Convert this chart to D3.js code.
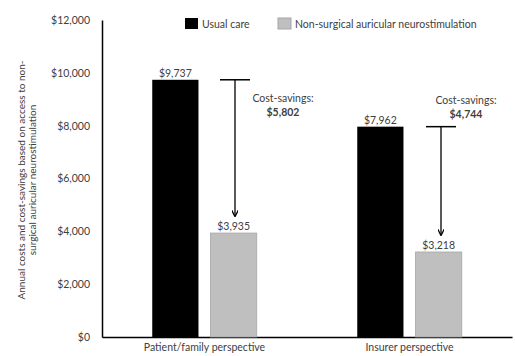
<!DOCTYPE html>
<html>
<head>
<meta charset="utf-8">
<script src="https://cdn.jsdelivr.net/npm/d3@7"></script>
<style>
  body { margin: 0; background: #fff; }
  text { font-family: Lato, "Open Sans", sans-serif; fill: #404040; }
</style>
</head>
<body>
<svg width="515" height="356"></svg>
<script>
const categories = ["Patient/family perspective", "Insurer perspective"];
const series = ["Usual care", "Non-surgical auricular neurostimulation"];
const usualCare = [9737, 7962];
const neurostim = [3935, 3218];
const savings = [5802, 4744];
const yTicks = [0, 2000, 4000, 6000, 8000, 10000, 12000];

const svg = d3.select("svg");
const colors = ["#000000", "#bfbfbf"];

const x = d3.scaleBand().domain(categories).range([102, 512]);
const xs = d3.scaleBand().domain(series).range([0, x.bandwidth()]).paddingInner(0.207).paddingOuter(0.862);
const y = d3.scaleLinear().domain([0, 12000]).range([337, 20]);

const fmt = d => "$" + d3.format(",")(d);

// y axis
const yAxis = svg.append("g")
  .attr("transform", "translate(102,0)")
  .call(d3.axisLeft(y).tickValues(yTicks).tickFormat(fmt).tickSize(0).tickPadding(12));
yAxis.select(".domain").attr("stroke", "#000").attr("stroke-width", 1.5);
yAxis.selectAll("text").style("font-size", "10.5px").attr("fill", "#404040");

// x axis
const xAxis = svg.append("g")
  .attr("transform", "translate(0,337)")
  .call(d3.axisBottom(x).tickSize(0).tickPadding(7));
xAxis.select(".domain").attr("stroke", "#000").attr("stroke-width", 1.5);
xAxis.selectAll("text").style("font-size", "10.5px").attr("fill", "#404040");

// bars
const rows = categories.map((c, i) => ({ cat: c, vals: [usualCare[i], neurostim[i]], save: savings[i] }));
const grp = svg.append("g").selectAll("g").data(rows).enter().append("g")
  .attr("transform", d => `translate(${x(d.cat)},0)`);

grp.selectAll("rect").data(d => d.vals.map((v, j) => ({ s: series[j], v, j })))
  .enter().append("rect")
  .attr("x", d => xs(d.s))
  .attr("y", d => y(d.v))
  .attr("width", xs.bandwidth())
  .attr("height", d => y(0) - y(d.v))
  .attr("fill", d => colors[d.j])
  .attr("stroke", d => d.j ? "#a6a6a6" : "none")
  .attr("stroke-width", 0.8);

grp.selectAll("text.val").data(d => d.vals.map((v, j) => ({ s: series[j], v })))
  .enter().append("text")
  .attr("x", d => xs(d.s) + xs.bandwidth() / 2)
  .attr("y", d => y(d.v) - 3)
  .attr("text-anchor", "middle")
  .style("font-size", "10.5px")
  .text(d => fmt(d.v));

// arrows
svg.append("defs").append("marker")
  .attr("id", "arrow").attr("viewBox", "0 0 10 10")
  .attr("refX", 9).attr("refY", 5)
  .attr("markerWidth", 5).attr("markerHeight", 5)
  .attr("orient", "auto")
  .append("path").attr("d", "M0,0L10,5L0,10").attr("fill", "none").attr("stroke", "#000").attr("stroke-width", 2);

const ax = [235 - 102, 441 - 307];
grp.each(function (d, i) {
  const g = d3.select(this);
  const top = y(d.vals[0]);
  const bot = y(d.vals[1]) - 17;
  g.append("line").attr("x1", ax[i] - 15).attr("x2", ax[i] + 15).attr("y1", top).attr("y2", top)
    .attr("stroke", "#000").attr("stroke-width", 1.5);
  g.append("line").attr("x1", ax[i]).attr("x2", ax[i]).attr("y1", top).attr("y2", bot)
    .attr("stroke", "#000").attr("stroke-width", 1.3).attr("marker-end", "url(#arrow)");
});

// cost-savings labels
const labelX = [283, 466];
const labelY = [102, 104];
rows.forEach((d, i) => {
  const t = svg.append("text").attr("text-anchor", "middle").style("font-size", "10.5px");
  t.append("tspan").attr("x", labelX[i]).attr("y", labelY[i]).text("Cost-savings:");
  t.append("tspan").attr("x", labelX[i]).attr("y", labelY[i] + 14).style("font-weight", "bold").text(fmt(d.save));
});

// legend
const leg = svg.append("g");
const legX = [185, 278];
series.forEach((s, j) => {
  leg.append("rect").attr("x", legX[j]).attr("y", 18).attr("width", 13).attr("height", 11)
    .attr("fill", colors[j]).attr("stroke", j ? "#a6a6a6" : "none");
  leg.append("text").attr("x", legX[j] + 17).attr("y", 27.5).style("font-size", "10.5px").text(s);
});

// y title
const yt = svg.append("text").attr("transform", "translate(25,180) rotate(-90)")
  .attr("text-anchor", "middle").style("font-size", "10px");
yt.append("tspan").attr("x", 0).attr("y", 0).text("Annual costs and cost-savings based on access to non-");
yt.append("tspan").attr("x", 0).attr("y", 11).text("surgical auricular neurostimulation");
</script>
</body>
</html>
